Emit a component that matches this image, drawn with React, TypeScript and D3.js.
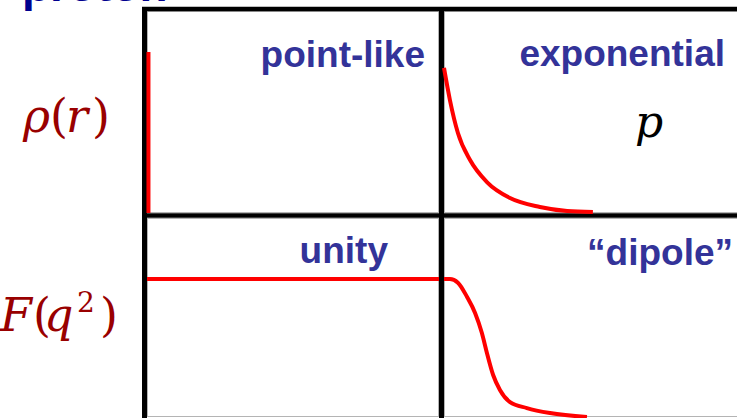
import * as d3 from "d3";
import React, { useRef, useEffect } from "react";

const width = 737,
  height = 418;

// panel names (top-left, top-right, bottom-left, bottom-right)
const panelNames = ["point-like", "exponential", "unity", "\u201cdipole\u201d"];

// rho(r): point-like spike at r = 0
const pointR = [0.5, 0.5];
const pointRho = [0, 79.7];

// rho(r): exponential fall-off
const expR = [0, 2.0, 4.7, 8.8, 14.5, 22.3, 32.4, 41.6, 50.3];
const expRho = [71.8, 55.9, 39.6, 26.2, 15.3, 7.4, 3.0, 1.0, 0.5];

// F(q^2): unity
const unityQ = [0, 100];
const unityF = [69.3, 69.3];

// F(q^2): "dipole"
const dipoleQ = [0, 2, 4.7, 7.8, 10.5, 12.8, 14.5, 16.6, 18.9, 22.3, 28, 35.8, 48.3];
const dipoleF = [69.3, 69.3, 67.5, 60.3, 52.3, 42.2, 32.2, 21.1, 13.6, 7.5, 4.5, 2.0, 0];

function FormFactors() {
  const ref = useRef<SVGSVGElement>(null);

  useEffect(() => {
    d3.select(ref.current).selectAll("*").remove();
    draw();
  }, []);

  const draw = () => {
    const svg = d3.select(ref.current);

    var xLeft = d3.scaleLinear().domain([0, 100]).range([147, 439]);
    var xRight = d3.scaleLinear().domain([0, 100]).range([444, 740]);
    var yTop = d3.scaleLinear().domain([0, 100]).range([213, 11]);
    var yBot = d3.scaleLinear().domain([0, 100]).range([417, 218]);

    // thin grey cell borders
    const cells = [
      [xLeft, yTop],
      [xRight, yTop],
      [xLeft, yBot],
      [xRight, yBot],
    ];
    svg
      .selectAll("cell")
      .data(cells)
      .enter()
      .append("rect")
      .attr("x", (d) => d[0](0) + 0.5)
      .attr("y", (d) => d[1](100) + 0.5)
      .attr("width", (d) => d[0](100) - d[0](0) - 1)
      .attr("height", (d) => d[1](0) - d[1](100) - 1)
      .attr("fill", "none")
      .attr("stroke", "#b4b4b4")
      .attr("stroke-width", 1);

    // thick black grid
    const black = svg.append("g").attr("stroke", "#000");
    [144.5, 441.5].forEach((x) =>
      black.append("line").attr("x1", x).attr("x2", x).attr("y1", 7).attr("y2", height).attr("stroke-width", 5)
    );
    [9, 215.5].forEach((y) =>
      black.append("line").attr("x1", 142).attr("x2", width).attr("y1", y).attr("y2", y).attr("stroke-width", 4.5)
    );

    // red curves
    const series = [
      { x: xLeft, y: yTop, r: pointR, v: pointRho },
      { x: xRight, y: yTop, r: expR, v: expRho },
      { x: xLeft, y: yBot, r: unityQ, v: unityF },
      { x: xRight, y: yBot, r: dipoleQ, v: dipoleF },
    ];
    series.forEach((s) => {
      const line = d3
        .line<number>()
        .x((d, i) => s.x(s.r[i]))
        .y((d) => s.y(d))
        .curve(s.r[0] === s.r[1] ? d3.curveLinear : d3.curveMonotoneX);
      svg
        .append("path")
        .attr("d", line(s.v))
        .attr("fill", "none")
        .attr("stroke", "#ff0000")
        .attr("stroke-width", 4);
    });

    // panel names
    const namePos = [
      [425, 67],
      [725, 66],
      [388, 263],
      [733, 265],
    ];
    svg
      .selectAll("name")
      .data(panelNames)
      .enter()
      .append("text")
      .attr("x", (d, i) => namePos[i][0])
      .attr("y", (d, i) => namePos[i][1])
      .attr("text-anchor", "end")
      .style("font-family", "'Liberation Sans', Arial, sans-serif")
      .style("font-weight", "bold")
      .style("font-size", "37px")
      .attr("fill", "#333399")
      .text((d) => d);

    // title, mostly cut off at the top
    svg
      .append("text")
      .attr("x", 22)
      .attr("y", 1)
      .style("font-family", "'Liberation Sans', Arial, sans-serif")
      .style("font-weight", "bold")
      .style("font-size", "46px")
      .attr("fill", "#00008f")
      .text("proton");

    // row labels
    const serif = "'DejaVu Serif', serif";
    const rho = svg
      .append("text")
      .attr("y", 132)
      .style("font-family", serif)
      .style("font-size", "46px")
      .attr("fill", "#990000");
    rho.append("tspan").attr("x", 23).style("font-style", "italic").text("\u03c1");
    rho.append("tspan").attr("x", 50).text("(");
    rho.append("tspan").attr("x", 66).style("font-style", "italic").text("r");
    rho.append("tspan").attr("x", 92).text(")");

    const ff = svg
      .append("text")
      .attr("y", 331)
      .style("font-family", serif)
      .style("font-size", "46px")
      .attr("fill", "#990000");
    ff.append("tspan").attr("x", 0).style("font-style", "italic").text("F");
    ff.append("tspan").attr("x", 33).text("(");
    ff.append("tspan").attr("x", 44).style("font-style", "italic").text("q");
    ff.append("tspan").attr("x", 77).attr("y", 312).style("font-size", "28px").text("2");
    ff.append("tspan").attr("x", 100).attr("y", 331).text(")");

    // proton symbol
    svg
      .append("text")
      .attr("x", 635)
      .attr("y", 137)
      .style("font-family", serif)
      .style("font-style", "italic")
      .style("font-size", "44px")
      .attr("fill", "#000")
      .text("p");
  };

  return (
    <svg
      ref={ref}
      width={width}
      height={height}
      style={{ position: "absolute", left: 0, top: 0, background: "#fff" }}
    ></svg>
  );
}

export default function App() {
  return <FormFactors />;
}
